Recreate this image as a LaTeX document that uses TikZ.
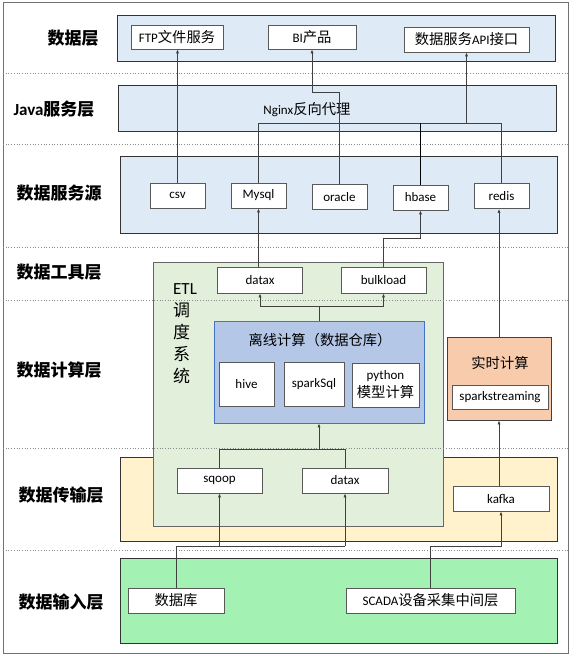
\documentclass[tikz,border=0pt]{standalone}
\usepackage{fontspec}
\setmainfont{Carlito}
\newfontfamily\cjk{Noto Sans CJK SC}[Scale=1.1]
\newfontfamily\cjkL{Noto Sans CJK SC}
\usetikzlibrary{arrows.meta}
\newcommand\zhs[1]{{\cjk #1}}
\newcommand\zhL[1]{{\cjkL #1}}
\newcommand\nodefont{\fontsize{13}{15}\selectfont}
\newcommand\labelfont{\fontsize{17}{20}\selectfont\bfseries}
\definecolor{cBlue}{HTML}{DEEBF7}
\definecolor{cEtl}{HTML}{E2EFDA}
\definecolor{cOff}{HTML}{B4C7E7}
\definecolor{cOffB}{HTML}{4472C4}
\definecolor{cRt}{HTML}{F8CBAD}
\definecolor{cYel}{HTML}{FFF2CC}
\definecolor{cIn}{HTML}{A4F1B4}
\tikzset{
  wbox/.style={draw=black!65, fill=white, line width=0.9pt, inner sep=0pt, font=\nodefont},
  layer/.style={draw=black!80, line width=0.9pt, inner sep=0pt},
  lbl/.style={font=\labelfont, inner sep=0pt},
  txt/.style={font=\nodefont, inner sep=0pt},
  ln/.style={draw=black!75, line width=0.7pt},
  arr/.style={ln, -{Latex[length=4pt,width=3.2pt]}},
  sepline/.style={draw=black!45, dotted, line width=0.7pt}
}
\begin{document}
\begin{tikzpicture}[x=1pt,y=-1pt]
\useasboundingbox (0,0) rectangle (572,658);
\fill[white] (0,0) rectangle (572,658);
\draw[draw=black!55, line width=1pt] (3,3) rectangle (568,653);

% layer boxes
\node[layer, fill=cBlue, minimum width=438pt, minimum height=46pt] (Ldata) at (336,38) {};
\node[layer, fill=cBlue, minimum width=438pt, minimum height=46pt] (Ljava) at (337,108) {};
\node[layer, fill=cBlue, minimum width=437pt, minimum height=77pt] (Lsrc) at (338.5,194.5) {};
\node[layer, fill=cYel, minimum width=437pt, minimum height=84pt] (Ltr) at (338.5,499) {};
\node[layer, fill=cIn, minimum width=437pt, minimum height=85pt] (Lin) at (338.5,600.5) {};
\node[layer, fill=cEtl, draw=black!60, minimum width=290pt, minimum height=264pt] (etl) at (298,394) {};

% separators
\foreach \yy in {73,144,247,300,448,550}
  \draw[sepline] (3,\yy) -- (568,\yy);

\node[layer, fill=cOff, draw=cOffB, minimum width=210pt, minimum height=102pt] (off) at (319,372) {};
\node[layer, fill=cRt, draw=black!75, minimum width=104pt, minimum height=83pt] (rt) at (499,378.5) {};

% left labels
\node[lbl] (l1) at (73,38) {\zhL{数据层}};
\node[lbl] (l2) at (54,109) {Java\zhL{服务层}};
\node[lbl] (l3) at (59,193) {\zhL{数据服务源}};
\node[lbl] (l4) at (59,272) {\zhL{数据工具层}};
\node[lbl] (l5) at (59,370) {\zhL{数据计算层}};
\node[lbl] (l6) at (61,495) {\zhL{数据传输层}};
\node[lbl] (l7) at (61,602) {\zhL{数据输入层}};

% texts
\node[txt] (nginx) at (307,110) {Nginx\zhs{反向代理}};
\node[txt] (offt) at (320,340) {\zhs{离线计算（数据仓库）}};
\node[txt] (rtt) at (500,363) {\zhs{实时计算}};
\node[anchor=north west, align=left, inner sep=0pt, font=\fontsize{17}{22}\selectfont] (etlt) at (173,283) {ETL\\\zhL{调}\\\zhL{度}\\\zhL{系}\\\zhL{统}};

% data layer nodes
\node[wbox, minimum width=92pt, minimum height=24pt] (ftp) at (177,37) {FTP\zhs{文件服务}};
\node[wbox, minimum width=88pt, minimum height=24pt] (bi) at (312,37) {BI\zhs{产品}};
\node[wbox, minimum width=125pt, minimum height=25pt] (api) at (466.5,39.5) {\zhs{数据服务}API\zhs{接口}};

% source nodes
\node[wbox, minimum width=55pt, minimum height=25pt] (csv) at (177.5,195.5) {csv};
\node[wbox, minimum width=55pt, minimum height=25pt] (mysql) at (258.5,195.5) {Mysql};
\node[wbox, minimum width=55pt, minimum height=25pt] (oracle) at (339.5,197) {oracle};
\node[wbox, minimum width=55pt, minimum height=25pt] (hbase) at (420.5,197.5) {hbase};
\node[wbox, minimum width=55pt, minimum height=25pt] (redis) at (501.5,196) {redis};

% tool nodes
\node[wbox, minimum width=85pt, minimum height=26pt] (datax) at (260,280) {datax};
\node[wbox, minimum width=85pt, minimum height=26pt] (bulk) at (383.5,280) {bulkload};

% compute nodes
\node[wbox, minimum width=55pt, minimum height=44pt] (hive) at (246.5,384) {hive};
\node[wbox, minimum width=60pt, minimum height=44pt] (spark) at (314,384.5) {sparkSql};
\node[wbox, minimum width=67pt, minimum height=44pt, align=center, font=\fontsize{13}{18}\selectfont] (py) at (385.5,385) {python\\\zhs{模型计算}};
\node[wbox, minimum width=96pt, minimum height=24pt] (ss) at (500,397) {sparkstreaming};

% transfer nodes
\node[wbox, minimum width=85pt, minimum height=25pt] (sqoop) at (219.5,480.5) {sqoop};
\node[wbox, minimum width=86pt, minimum height=25pt] (dx2) at (345,480.5) {datax};
\node[wbox, minimum width=96pt, minimum height=25pt] (kafka) at (501,498.5) {kafka};

% input nodes
\node[wbox, minimum width=96pt, minimum height=25pt] (db) at (176,600.5) {\zhs{数据库}};
\node[wbox, minimum width=169pt, minimum height=25pt] (scada) at (430.5,600.5) {SCADA\zhs{设备采集中间层}};

% bend coordinates
\coordinate (yBI) at (0,92);
\coordinate (yBus) at (0,123);
\coordinate (yHb) at (0,238);
\coordinate (yOff) at (0,306);
\coordinate (yTr) at (0,449);
\coordinate (yIn) at (0,546);

% connectors top
\draw[arr] (csv.north) -- (csv.north |- ftp.south);
\draw[arr] (oracle.north) -- (oracle.north |- yBI) -| (bi.south);
\draw[ln] (mysql.north) -- (mysql.north |- yBus) -- (redis.north |- yBus) -- (redis.north);
\draw[ln, draw=black] (hbase.north) -- (hbase.north |- yBus);
\draw[arr] (api.south |- yBus) -- (api.south);

% tools to sources
\draw[arr] (mysql.south |- datax.north) -- (mysql.south);
\draw[arr] (bulk.north) -- (bulk.north |- yHb) -| (hbase.south);

% offline to tools
\draw[ln] (off.north) -- (off.north |- yOff);
\draw[ln] (datax.south |- yOff) -- (bulk.south |- yOff);
\draw[arr] (datax.south |- yOff) -- (datax.south);
\draw[arr] (bulk.south |- yOff) -- (bulk.south);

% transfer to offline
\draw[ln] (sqoop.north) -- (sqoop.north |- yTr) -- (dx2.north |- yTr) -- (dx2.north);
\draw[arr] (off.south |- yTr) -- (off.south);

% input to transfer
\draw[ln] (db.north) -- (db.north |- yIn) -- (dx2.south |- yIn);
\draw[arr] (sqoop.south |- yIn) -- (sqoop.south);
\draw[arr] (dx2.south |- yIn) -- (dx2.south);
\draw[arr] (scada.north) -- (scada.north |- yIn) -| (kafka.south);

% realtime
\draw[arr] (rt.south |- kafka.north) -- (rt.south);
\draw[arr] (rt.north) -- (rt.north |- redis.south);
\end{tikzpicture}
\end{document}
